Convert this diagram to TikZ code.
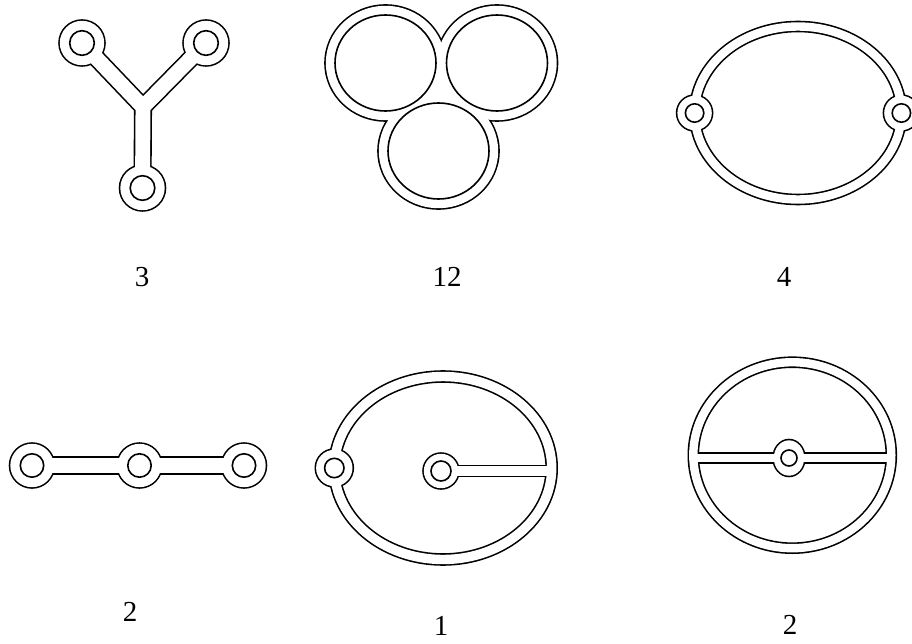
\documentclass[tikz,border=0pt]{standalone}
\usepackage{fontspec}
\setmainfont{Liberation Serif}
\usepackage{tikz}

\begin{document}
\begin{tikzpicture}[x=1pt, y=-1pt,
    every node/.style={font=\fontsize{29}{30}\selectfont},
    rim/.style={line width=#1pt+1.6pt, line cap=round, line join=round},
    gap/.style={line width=#1pt-1.6pt, draw=white, line cap=round, line join=round},
    hole/.style={line width=1.6pt}]
  \useasboundingbox (0,0) rectangle (912,644);
  \clip (0,0) rectangle (912,644);

  % ===== (3): tripod =====
  \coordinate (y1) at (82,43);
  \coordinate (y2) at (206,43);
  \coordinate (y3) at (142.5,188);
  \coordinate (yc) at (143,107);
  \draw[rim=16.5] (y1) -- (yc) -- (y2) (yc) -- (y3);
  \foreach \v in {y1,y2,y3} \fill (\v) circle[radius=23.8];
  \draw[gap=16.5] (y1) -- (yc) -- (y2) (yc) -- (y3);
  \foreach \v in {y1,y2,y3} {
    \fill[white] (\v) circle[radius=22.2];
    \draw[hole] (\v) circle[radius=12.3];
  }
  \node (n3) at (142,277) {3};

  % ===== (12): three rings =====
  \coordinate (c1) at (385.5,63);
  \coordinate (c2) at (497,63);
  \coordinate (c3) at (438.5,151);
  \foreach \v in {c1,c2,c3} \fill (\v) ellipse[x radius=61.3, y radius=58.8];
  \foreach \v in {c1,c2,c3} \fill[white] (\v) ellipse[x radius=59.7, y radius=57.2];
  \fill[white] (c1) -- (c2) -- (c3) -- cycle;
  \foreach \v in {c1,c2,c3} \draw[hole] (\v) ellipse[x radius=50.5, y radius=48];
  \node (n12) at (447,277) {12};

  % ===== (4): loop with two vertices =====
  \coordinate (o4) at (798,113);
  \coordinate (p1) at (694.6,113);
  \coordinate (p2) at (901.4,113);
  \draw[rim=10] (o4) ellipse[x radius=103.4, y radius=86.5];
  \foreach \v in {p1,p2} \fill (\v) circle[radius=18.8];
  \draw[gap=10] (o4) ellipse[x radius=103.4, y radius=86.5];
  \foreach \v in {p1,p2} {
    \fill[white] (\v) circle[radius=17.2];
    \draw[hole] (\v) circle[radius=9.2];
  }
  \node (n4) at (784,277) {4};

  % ===== (2): chain =====
  \coordinate (q1) at (32,465.5);
  \coordinate (q2) at (139.5,465.5);
  \coordinate (q3) at (244,465.5);
  \draw[rim=16.5] (q1) -- (q2) -- (q3);
  \foreach \v in {q1,q2,q3} \fill (\v) circle[radius=23.3];
  \draw[gap=16.5] (q1) -- (q2) -- (q3);
  \foreach \v in {q1,q2,q3} {
    \fill[white] (\v) circle[radius=21.7];
    \draw[hole] (\v) circle[radius=11.7];
  }
  \node (n2a) at (130,612) {2};

  % ===== (1): loop with a spoke =====
  \coordinate (o1) at (443,468);
  \coordinate (s1) at (334.3,468);
  \coordinate (s2) at (441,471);
  \coordinate (s3) at (551.6,471);
  \draw[rim=11] (o1) ellipse[x radius=108.7, y radius=91.5];
  \draw[rim=11, line cap=butt] (s2) -- (s3);
  \fill (s1) circle[radius=19.8];
  \fill (s2) circle[radius=18.8];
  \draw[gap=11] (o1) ellipse[x radius=108.7, y radius=91.5];
  \draw[gap=11, line cap=butt] (s2) -- (s3);
  \fill[white] (s1) circle[radius=18.2];
  \fill[white] (s2) circle[radius=17.2];
  \draw[hole] (s1) circle[radius=9.7];
  \draw[hole] (s2) circle[radius=10];
  \node (n1) at (441,626) {1};

  % ===== (2): loop with a diameter =====
  \coordinate (o2) at (792.3,455.2);
  \coordinate (w1) at (693.3,458);
  \coordinate (w2) at (789,458);
  \coordinate (w3) at (891.3,458);
  \draw[rim=10] (o2) ellipse[x radius=99, y radius=93];
  \draw[rim=10, line cap=butt] (w1) -- (w2) -- (w3);
  \fill (w2) ellipse[x radius=16.8, y radius=19.3];
  \draw[gap=10] (o2) ellipse[x radius=99, y radius=93];
  \draw[gap=10, line cap=butt] (w1) -- (w2) -- (w3);
  \fill[white] (w2) ellipse[x radius=15.2, y radius=17.7];
  \draw[hole] (w2) circle[radius=8];
  \node (n2b) at (790,625) {2};
\end{tikzpicture}
\end{document}
